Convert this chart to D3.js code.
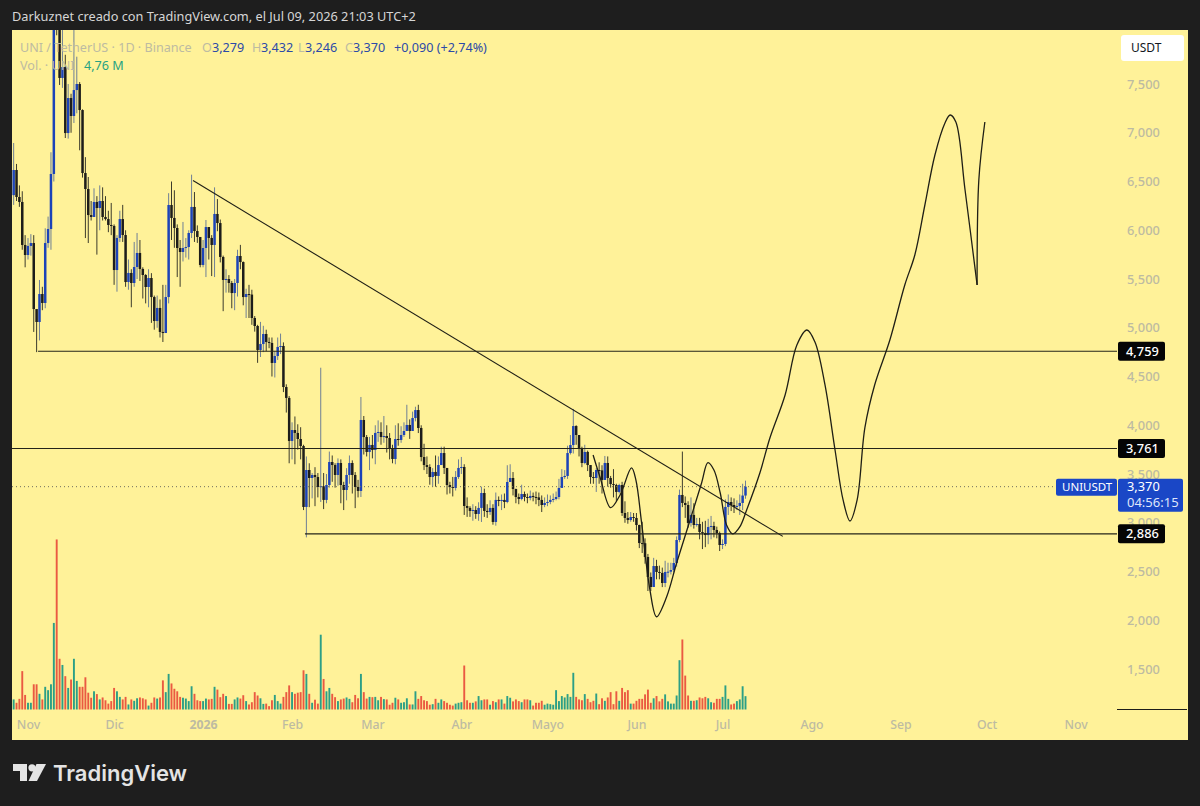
<!DOCTYPE html>
<html lang="es">
<head>
<meta charset="utf-8">
<title>UNI / TetherUS 1D</title>
<script src="https://cdn.jsdelivr.net/npm/d3@7/dist/d3.min.js"></script>
<style>
  html, body { margin: 0; padding: 0; background: #1e1e1e; }
  svg { display: block; font-family: "Noto Sans", "Open Sans", sans-serif; }
  .axis .domain, .axis line { display: none; }
  .axis text { fill: #bdbba2; font-size: 12.8px; font-family: "Noto Sans", sans-serif; font-weight: 500; }
</style>
</head>
<body>
<svg id="chart" width="1200" height="806"></svg>
<script>
// Daily candles, first session 27 Oct 2025, last session 9 Jul 2026 (USDT)
const firstOpen = 6360;
const closes = [
  6618,6341,6290,5849,5746,5839,5869,5192,5059,5346,
  5254,5869,6013,6577,8900,8259,7562,7674,6997,7356,
  7172,7438,7500,7233,6587,6423,6156,6136,6290,6228,
  6300,6136,6115,6054,6044,5592,5921,6115,5951,5469,
  5562,5459,5623,5767,5603,5541,5418,5510,5315,5069,
  5203,4957,4946,5315,6259,6126,6023,5818,5777,5818,
  5828,5972,6239,5992,5931,5644,5818,6033,5921,5849,
  6167,6074,5726,5490,5500,5459,5356,5459,5736,5674,
  5315,5346,5340,5100,5018,4772,4833,4936,4854,4844,
  4639,4710,4803,4813,4392,4280,3839,3951,3921,3859,
  3787,3162,3541,3459,3490,3469,3367,3375,3234,3387,
  3623,3592,3490,3613,3387,3336,3490,3613,3490,3367,
  3326,4054,3879,3726,3798,3746,3921,3931,3879,3890,
  3869,3757,3654,3859,3849,3900,3941,4003,3941,4074,
  4156,3972,3674,3592,3572,3469,3521,3480,3592,3715,
  3562,3387,3367,3357,3469,3562,3572,3172,3152,3121,
  3131,3090,3152,3305,3121,3110,3152,3008,3234,3223,
  3234,3213,3418,3459,3346,3264,3244,3295,3264,3254,
  3275,3264,3260,3234,3182,3203,3213,3234,3244,3264,
  3357,3469,3480,3715,3797,3992,3900,3767,3613,3726,
  3592,3469,3459,3541,3537,3439,3613,3459,3397,3387,
  3316,3387,3100,3049,3028,3059,3049,2977,2792,2790,
  2649,2444,2341,2556,2495,2485,2382,2495,2498,2515,
  2587,2823,3285,3203,3182,2998,3080,2977,2987,2905,
  2895,2874,2956,2967,2926,2895,2772,2782,3162,3213,
  3182,3162,3172,3203,3279,3370
];
const highs = [
  6895,6680,6460,6400,5950,5920,5960,5950,5170,5490,
  5420,6020,6140,6800,10000,9900,8600,8400,7800,7500,
  7400,8300,7780,7520,7240,6750,6546,6300,6430,6350,
  6460,6440,6350,6200,6280,6060,5950,6200,6260,6000,
  5700,5600,5880,5972,5900,5620,5550,5600,5560,5330,
  5330,5290,5440,5440,6380,6500,6410,6060,5900,6085,
  5920,6000,6570,6392,6050,5780,5900,6105,6010,5950,
  6440,6320,6110,5740,5600,5540,5480,5500,5800,5850,
  5680,5400,5440,5390,5120,5030,5060,5020,4980,4900,
  4900,4760,4900,4940,4850,4420,4300,4030,4090,4010,
  3980,3800,3680,3610,3510,3570,3510,4590,3510,3500,
  3730,3690,3610,3660,3650,3420,3560,3690,3640,3520,
  3440,4290,4095,3900,3880,3900,4000,4050,4030,4095,
  4000,3920,3800,4000,4020,3990,4030,4210,4060,4140,
  4190,4210,4000,3810,3680,3600,3560,3690,3680,3780,
  3780,3500,3420,3470,3530,3650,3675,3600,3260,3170,
  3190,3170,3210,3370,3350,3190,3230,3190,3310,3270,
  3290,3300,3590,3600,3520,3350,3300,3390,3320,3300,
  3330,3310,3320,3310,3280,3260,3290,3280,3300,3320,
  3450,3550,3540,3790,3900,4167,4000,3830,3780,3800,
  3740,3590,3520,3560,3620,3590,3685,3680,3480,3550,
  3400,3400,3420,3220,3110,3110,3100,3100,2980,3010,
  2840,2680,2490,2640,2620,2560,2540,2610,2590,2590,
  2640,2860,3340,3730,3270,3220,3260,3200,3050,3050,
  3010,3020,3040,3070,3010,2960,2910,2830,3240,3290,
  3260,3250,3230,3290,3400,3432
];
const lows = [
  6260,6300,6240,5800,5620,5700,5740,4957,4750,4870,
  5180,5200,5820,5800,6500,8000,7490,7460,6946,6940,
  7000,7100,7200,6820,6540,5920,5869,6100,6140,5750,
  6000,6100,6100,5980,5950,5440,5370,5880,5880,5420,
  5390,5210,5420,5500,5480,5300,5250,5210,5050,4980,
  5000,4900,4854,5170,5250,5900,5820,5520,5420,5680,
  5720,5700,5920,5880,5870,5620,5620,5520,5700,5530,
  5520,5990,5670,5170,5360,5360,5200,5180,5320,5600,
  5230,5100,5100,5030,4960,4640,4700,4750,4760,4790,
  4500,4490,4670,4730,4340,4130,3610,3650,3600,3750,
  3650,3130,2850,3160,3250,3170,3260,3213,3140,3200,
  3360,3420,3360,3380,3200,3130,3230,3400,3300,3150,
  3260,3264,3700,3680,3540,3660,3600,3830,3800,3820,
  3720,3650,3610,3600,3790,3820,3880,3960,3860,3950,
  4040,3920,3630,3540,3500,3390,3370,3370,3400,3640,
  3500,3290,3300,3270,3330,3450,3500,3080,3060,3060,
  3020,3040,3020,3008,3060,3050,3080,2980,2970,3170,
  3130,3150,3200,3420,3280,3200,3190,3230,3220,3200,
  3230,3220,3190,3170,3110,3160,3170,3190,3210,3230,
  3240,3420,3450,3450,3700,3710,3800,3680,3570,3600,
  3530,3400,3400,3316,3400,3300,3470,3370,3360,3260,
  3220,3300,3070,3000,2990,3010,3010,2920,2740,2690,
  2580,2300,2300,2440,2420,2420,2340,2340,2440,2470,
  2490,2550,2800,3160,3050,2950,2960,2940,2960,2830,
  2730,2750,2780,2830,2850,2840,2710,2730,2760,3080,
  3120,3100,3130,3080,3130,3246
];
// Daily volume in millions of UNI
const volumes = [
  3.6,2.4,3.8,13.7,5.2,2.4,2.4,9.0,9.0,5.6,
  3.6,8.1,6.9,9.0,30.9,60.7,18.1,15.9,11.9,7.7,
  10.7,18.1,10.2,8.1,8.1,11.5,6.0,4.2,6.5,5.5,
  3.6,4.3,3.3,2.1,3.0,7.7,6.5,4.5,3.6,4.5,
  1.8,3.6,3.1,4.0,4.3,4.0,3.6,1.4,2.4,4.3,
  3.9,4.3,10.4,6.2,12.7,9.3,7.4,6.5,4.5,4.2,
  3.9,3.0,8.3,5.6,3.3,3.0,3.0,3.9,3.6,3.8,
  8.1,7.1,4.4,5.6,4.8,2.0,2.0,3.6,4.3,3.9,
  5.1,3.0,1.8,2.6,6.2,5.0,4.0,2.0,2.1,1.2,
  3.3,5.2,3.0,2.1,4.5,6.2,8.6,6.2,5.6,6.0,
  6.2,14.0,12.7,5.6,2.4,3.5,2.1,26.7,10.9,6.5,
  7.7,5.6,4.4,3.0,3.6,3.9,4.3,3.8,2.6,5.2,
  4.0,12.7,6.2,3.9,4.5,4.4,4.5,3.3,4.5,3.7,
  3.6,1.7,2.4,4.2,3.6,2.4,2.6,4.0,1.8,1.8,
  6.5,3.8,4.8,3.3,3.0,1.7,1.9,3.8,2.4,3.6,
  3.0,2.4,1.7,1.4,2.1,2.4,2.6,15.7,3.3,2.4,
  2.4,2.9,4.8,3.3,3.6,3.6,1.7,3.0,2.6,3.6,
  3.6,2.1,4.8,4.2,2.9,3.6,3.0,2.6,3.6,3.6,
  3.3,1.4,2.4,2.4,3.1,1.7,2.1,1.9,1.7,6.9,
  3.0,4.8,4.3,5.5,4.5,13.1,4.5,3.6,3.3,5.5,
  3.8,2.6,3.1,5.7,1.9,4.0,3.1,4.3,6.2,1.9,
  6.5,3.1,7.7,6.2,6.9,2.1,2.1,3.1,3.8,3.8,
  5.4,7.1,2.4,4.0,4.8,2.9,3.8,5.4,2.9,2.1,
  2.1,5.0,17.6,25.0,12.1,5.0,3.1,3.1,3.3,4.3,
  4.0,4.5,4.0,2.6,2.4,3.8,3.8,4.5,8.6,3.8,
  1.8,2.1,3.0,3.6,8.3,4.76
];

// Axis content
const priceTicks = [7500,7000,6500,6000,5500,5000,4500,4000,3500,3000,2500,2000,1500];
const timeTickDays = [5,35,66,97,125,156,186,217,247,278,309,339,370];
const timeTickLabels = ["Nov","Dic","2026","Feb","Mar","Abr","Mayo","Jun","Jul","Ago","Sep","Oct","Nov"];

// Horizontal levels: price and the session each one starts from
const levelPrices = [4759,3761,2886];
const levelStartDays = [8.5,-1,101.5];
const levelLabels = ["4,759","3,761","2,886"];
const lastPrice = 3370;

// Hand drawn annotations, as [session, price]
const trendLine = [[62.5,6510],[268,2860]];
const sketchFirst = [
  [201.9,3695],[204.4,3459],[208,3155],[211.3,3285],[215.3,3562],[216.8,3439],
  [218.8,2998],[221.7,2311],[224,2036],[227.5,2238],[231,2587],[235.7,3028],
  [239.7,3408],[241.9,3616],[244,3541],[246.2,3305],[248.4,2977],[250.6,2885],
  [253,2957],[255.4,3131],[260,3510],[263.5,3869],[268.8,4310],[272.9,4823],
  [276.4,4977],[279.2,4854],[282.7,4413],[286.2,3746],[289,3234],[291.4,3018],
  [293.9,3234],[296.6,3976],[300,4413],[305.3,4874],[310.5,5439],[314,5746],
  [317.5,6259],[321,6772],[324.5,7100],[326.3,7182],[328.3,7110],[331.5,6413],[335.7,5439]
];
const sketchSecond = [[335.7,5439],[336.3,6515],[338.4,7110]];

const svg = d3.select("#chart");
const W = 1200, H = 806;
const plot = { left: 12, right: 1188, top: 30, bottom: 740, scaleLeft: 1117 };

const x = d3.scaleLinear().domain([0, 370]).range([13.65, 13.65 + 370 * 2.87]);
const y = d3.scaleLinear().domain([7500, 1500]).range([84, 669]);
const yVol = d3.scaleLinear().domain([0, 62]).range([709.5, 535.8]);

const UP = "#1c43b8", DOWN = "#1d1d1a";
const UP_WICK = "#6f7f96", DOWN_WICK = "#3c3b2c";
const VOL_UP = "#2c9f86", VOL_DOWN = "#ea5a42";

// Page and pane backgrounds
svg.append("rect").attr("width", W).attr("height", H).attr("fill", "#1e1e1e");
svg.append("rect")
  .attr("x", plot.left).attr("y", plot.top)
  .attr("width", plot.right - plot.left).attr("height", plot.bottom - plot.top)
  .attr("fill", "#fff299");
svg.append("defs").append("clipPath").attr("id", "pane")
  .append("rect")
  .attr("x", plot.left).attr("y", plot.top)
  .attr("width", plot.scaleLeft - plot.left).attr("height", plot.bottom - plot.top);

const candles = closes.map((c, i) => ({
  i, close: c, open: i ? closes[i - 1] : firstOpen, high: highs[i], low: lows[i], volume: volumes[i]
}));
const isUp = d => d.close >= d.open;

// Header
svg.append("text").attr("x", 12).attr("y", 21)
  .attr("fill", "#d6d6d6").attr("font-size", 12.75)
  .text("Darkuznet creado con TradingView.com, el Jul 09, 2026 21:03 UTC+2");

const pane = svg.append("g").attr("clip-path", "url(#pane)");

// Volume histogram
pane.append("g").selectAll("rect").data(candles).join("rect")
  .attr("x", d => x(d.i) - 0.95)
  .attr("width", 1.9)
  .attr("y", d => yVol(d.volume))
  .attr("height", d => yVol(0) - yVol(d.volume))
  .attr("fill", d => isUp(d) ? VOL_UP : VOL_DOWN);

// Last price dotted line
svg.append("line")
  .attr("x1", plot.left).attr("x2", 1056)
  .attr("y1", y(lastPrice)).attr("y2", y(lastPrice))
  .attr("stroke", "#6d6d60").attr("stroke-width", 1).attr("stroke-dasharray", "1 3");

// Candles
const candle = pane.append("g").selectAll("g").data(candles).join("g");
candle.append("line")
  .attr("x1", d => x(d.i)).attr("x2", d => x(d.i))
  .attr("y1", d => y(d.high)).attr("y2", d => y(d.low))
  .attr("stroke", d => isUp(d) ? UP_WICK : DOWN_WICK)
  .attr("stroke-width", 1);
candle.append("rect")
  .attr("x", d => x(d.i) - 1.25)
  .attr("width", 2.5)
  .attr("y", d => y(Math.max(d.open, d.close)))
  .attr("height", d => Math.max(1, Math.abs(y(d.open) - y(d.close))))
  .attr("fill", d => isUp(d) ? UP : DOWN);

// Horizontal levels
svg.append("g").selectAll("line").data(levelPrices).join("line")
  .attr("x1", (d, i) => Math.max(plot.left, x(levelStartDays[i])))
  .attr("x2", plot.scaleLeft)
  .attr("y1", d => y(d)).attr("y2", d => y(d))
  .attr("stroke", "#24241a").attr("stroke-width", 1.1);

// Trend line and sketched path
const line = d3.line().x(d => x(d[0])).y(d => y(d[1]));
const smooth = d3.line().x(d => x(d[0])).y(d => y(d[1])).curve(d3.curveCatmullRom.alpha(0.5));
const ink = { fill: "none", stroke: "#1f1f16", "stroke-width": 1.3 };
function inked(sel) { Object.entries(ink).forEach(([k, v]) => sel.attr(k, v)); return sel; }
inked(svg.append("path").attr("d", line(trendLine))).attr("stroke-width", 1.1);
inked(svg.append("path").attr("d", smooth(sketchFirst)));
inked(svg.append("path").attr("d", smooth(sketchSecond)));

// Axes
svg.append("g").attr("class", "axis").attr("transform", `translate(0,${plot.bottom - 20})`)
  .call(d3.axisBottom(x).tickValues(timeTickDays).tickSize(0).tickPadding(0)
    .tickFormat((d, i) => timeTickLabels[i]))
  .selectAll("text")
  .attr("dy", "0.71em")
  .style("font-size", "12.3px")
  .style("font-weight", (d, i) => timeTickLabels[i] === "2026" ? 700 : 500);
svg.append("g").attr("class", "axis").attr("transform", `translate(1127,0)`)
  .call(d3.axisRight(y).tickValues(priceTicks).tickSize(0).tickPadding(0)
    .tickFormat(d3.format(",")));

// Scale corner line above the time axis
svg.append("line").attr("x1", plot.scaleLeft).attr("x2", plot.right - 1)
  .attr("y1", 709.5).attr("y2", 709.5).attr("stroke", "#1d1d1a");

// Currency button
svg.append("rect").attr("x", 1121).attr("y", 35).attr("width", 63).attr("height", 26).attr("rx", 3).attr("fill", "#ffffff");
svg.append("text").attr("x", 1131).attr("y", 52).attr("font-size", 12).attr("fill", "#131722").text("USDT");

// Level price tags
const tag = svg.append("g").selectAll("g").data(levelPrices).join("g")
  .attr("transform", d => `translate(1118,${y(d)})`);
tag.append("rect").attr("x", 0).attr("y", -9.5).attr("width", 47).attr("height", 19).attr("rx", 2).attr("fill", "#050505");
tag.append("text").attr("x", 8).attr("y", 4.5).attr("font-size", 12.8).attr("font-weight", 500)
  .attr("fill", "#ffffff").text((d, i) => levelLabels[i]);

// Last price tags
const BLUE = "#1a47c6";
svg.append("rect").attr("x", 1056).attr("y", y(lastPrice) - 8).attr("width", 61).attr("height", 17).attr("rx", 2).attr("fill", BLUE);
svg.append("text").attr("x", 1062).attr("y", y(lastPrice) + 4.5).attr("font-size", 11.5).attr("fill", "#ffffff").text("UNIUSDT");
svg.append("rect").attr("x", 1118).attr("y", y(lastPrice) - 8).attr("width", 65).attr("height", 33).attr("rx", 2).attr("fill", BLUE);
svg.append("text").attr("x", 1127).attr("y", y(lastPrice) + 4.5).attr("font-size", 12.8).attr("fill", "#ffffff").text(d3.format(",")(lastPrice));
svg.append("text").attr("x", 1127).attr("y", y(lastPrice) + 20.5).attr("font-size", 13).attr("fill", "#dfe6fb").text("04:56:15");

// Legend
const legendGrey = "#bdbba2", legendBlue = "#2c4aa8", legendTeal = "#27a283";
const legendRow = [
  ["UNI / TetherUS · 1D · Binance", 20, legendGrey],
  ["O", 202, legendGrey], ["3,279", 212, legendBlue],
  ["H", 252, legendGrey], ["3,432", 261, legendBlue],
  ["L", 298, legendGrey], ["3,246", 305, legendBlue],
  ["C", 345, legendGrey], ["3,370", 353, legendBlue],
  ["+0,090 (+2,74%)", 394, legendBlue]
];
svg.append("g").selectAll("text").data(legendRow).join("text")
  .attr("x", d => d[1]).attr("y", 52).attr("font-size", 12.6).attr("fill", d => d[2]).text(d => d[0]);
svg.append("text").attr("x", 20).attr("y", 70).attr("font-size", 12.6).attr("fill", legendGrey).text("Vol. · UNI");
svg.append("text").attr("x", 84).attr("y", 70).attr("font-size", 12.6).attr("fill", legendTeal).text("4,76 M");

// Footer wordmark
const mark = svg.append("g").attr("fill", "#e4e4e4");
mark.append("path").attr("d", "M13 764H27V781H20V771H13Z");
mark.append("circle").attr("cx", 32).attr("cy", 767.8).attr("r", 3.6);
mark.append("path").attr("d", "M36.5 764H46L37 781H28.5Z");
svg.append("text").attr("x", 53).attr("y", 781).attr("font-size", 22).attr("font-weight", 600)
  .attr("fill", "#e4e4e4").attr("font-family", "Inter, sans-serif").text("TradingView");
</script>
</body>
</html>
